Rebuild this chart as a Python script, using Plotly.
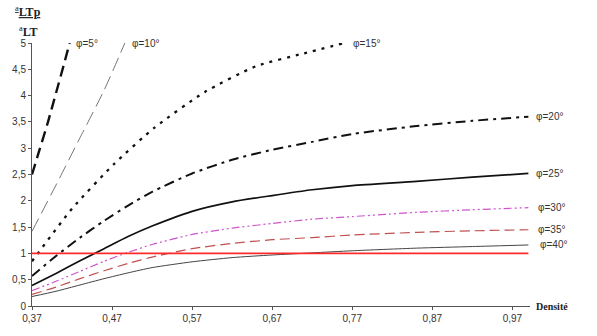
import plotly.graph_objects as go

# ---- data ----
x5 = [0.37, 0.38, 0.39, 0.40, 0.41, 0.417]
y5 = [2.5, 3.0, 3.5, 4.05, 4.6, 5.0]

x10 = [0.37, 0.40, 0.43, 0.46, 0.486]
y10 = [1.42, 2.3, 3.2, 4.1, 5.0]

x15 = [0.37, 0.42, 0.4725, 0.523, 0.586, 0.65, 0.709, 0.76]
y15 = [0.85, 1.85, 2.70, 3.39, 4.07, 4.56, 4.80, 5.0]

xc = [0.37, 0.40, 0.43, 0.46, 0.49, 0.52, 0.57, 0.62, 0.67, 0.72, 0.77, 0.85, 0.92, 0.99]
y20 = [0.57, 0.95, 1.30, 1.62, 1.91, 2.17, 2.52, 2.78, 2.97, 3.12, 3.27, 3.42, 3.52, 3.60]
y25 = [0.39, 0.62, 0.86, 1.09, 1.32, 1.52, 1.80, 1.98, 2.10, 2.21, 2.29, 2.37, 2.45, 2.52]
y30 = [0.29, 0.47, 0.66, 0.85, 1.02, 1.17, 1.36, 1.48, 1.57, 1.65, 1.70, 1.78, 1.83, 1.87]
y35 = [0.22, 0.36, 0.52, 0.67, 0.81, 0.93, 1.09, 1.19, 1.26, 1.30, 1.35, 1.40, 1.43, 1.45]
y40 = [0.18, 0.28, 0.40, 0.52, 0.63, 0.73, 0.84, 0.92, 0.97, 1.01, 1.05, 1.10, 1.13, 1.16]

ref_x = [0.37, 0.99]
ref_y = [1, 1]

labels = ["φ=5°", "φ=10°", "φ=15°", "φ=20°", "φ=25°", "φ=30°", "φ=35°", "φ=40°"]

x_ticks = [0.37, 0.47, 0.57, 0.67, 0.77, 0.87, 0.97]
x_ticktext = ["0,37", "0,47", "0,57", "0,67", "0,77", "0,87", "0,97"]
y_ticks = [0, 0.5, 1, 1.5, 2, 2.5, 3, 3.5, 4, 4.5, 5]
y_ticktext = ["0", "0,5", "1", "1,5", "2", "2,5", "3", "3,5", "4", "4,5", "5"]

fig = go.Figure()

series = [
    (x5, y5, dict(color="#111111", width=2.4, dash="11px,6px")),
    (x10, y10, dict(color="#666666", width=0.9, dash="14px,6px")),
    (x15, y15, dict(color="#111111", width=2.3, dash="3px,6px")),
    (xc, y20, dict(color="#111111", width=2.0, dash="10px,5px,3px,5px")),
    (xc, y25, dict(color="#111111", width=1.7)),
    (xc, y30, dict(color="#cc55cc", width=1.2, dash="8px,3px,2px,3px,2px,3px")),
    (xc, y35, dict(color="#c05050", width=1.2, dash="10px,5px")),
    (xc, y40, dict(color="#444444", width=1.0)),
]
for (xs, ys, ln), name in zip(series, labels):
    fig.add_trace(go.Scatter(x=xs, y=ys, mode="lines", line=dict(shape="spline", smoothing=0.6, **ln),
                             name=name, showlegend=False, hoverinfo="skip"))

fig.add_trace(go.Scatter(x=ref_x, y=ref_y, mode="lines", line=dict(color="#ff2a2a", width=1.6),
                         showlegend=False, hoverinfo="skip"))

# curve labels, placed next to each curve end
label_pos = [
    (x5[-1], y5[-1], 4, 0),
    (x10[-1], y10[-1], 5, 0),
    (x15[-1], y15[-1], 7, 0),
    (xc[-1], y20[-1], 6, 0),
    (xc[-1], y25[-1], 6, 0),
    (xc[-1], y30[-1], 8, 0),
    (xc[-1], y35[-1], 8, 0),
    (xc[-1], y40[-1], 10, 0),
]
for (lx, ly, dx, dy), txt in zip(label_pos, labels):
    fig.add_annotation(x=lx, y=ly, text=txt, showarrow=False, xanchor="left", yanchor="middle",
                       xshift=dx, yshift=dy, font=dict(family="Liberation Sans, Arial", size=10, color="#333333"))

# y-axis title (fraction)
fig.add_annotation(xref="paper", yref="paper", x=-0.008, y=1.0, yshift=22,
                   text="<u><sup>a</sup><b>LTp</b></u>", showarrow=False, xanchor="center", yanchor="bottom",
                   font=dict(family="Liberation Serif, Times New Roman", size=12, color="#222222"))
fig.add_annotation(xref="paper", yref="paper", x=-0.008, y=1.0, yshift=2,
                   text="<sup>a</sup><b>LT</b>", showarrow=False, xanchor="center", yanchor="bottom",
                   font=dict(family="Liberation Serif, Times New Roman", size=12, color="#222222"))
# x-axis title
fig.add_annotation(xref="paper", yref="paper", x=1.0, y=0.0, xshift=4,
                   text="<b>Densité</b>", showarrow=False, xanchor="left", yanchor="middle",
                   font=dict(family="Liberation Serif, Times New Roman", size=10, color="#222222"))

fig.update_layout(
    width=597, height=336,
    margin=dict(l=29, r=67, t=43, b=23),
    paper_bgcolor="white", plot_bgcolor="white",
    font=dict(family="Liberation Sans, Arial", size=10, color="#333333"),
)
fig.update_xaxes(range=[0.37, 0.992], tickvals=x_ticks, ticktext=x_ticktext,
                 showgrid=False, zeroline=False, showline=True, linecolor="#555555", linewidth=1,
                 ticks="outside", ticklen=3, tickcolor="#555555")
fig.update_yaxes(range=[0, 5], tickvals=y_ticks, ticktext=y_ticktext,
                 showgrid=False, zeroline=False, showline=True, linecolor="#555555", linewidth=1,
                 ticks="outside", ticklen=3, tickcolor="#555555")

fig.write_html("out.html")
